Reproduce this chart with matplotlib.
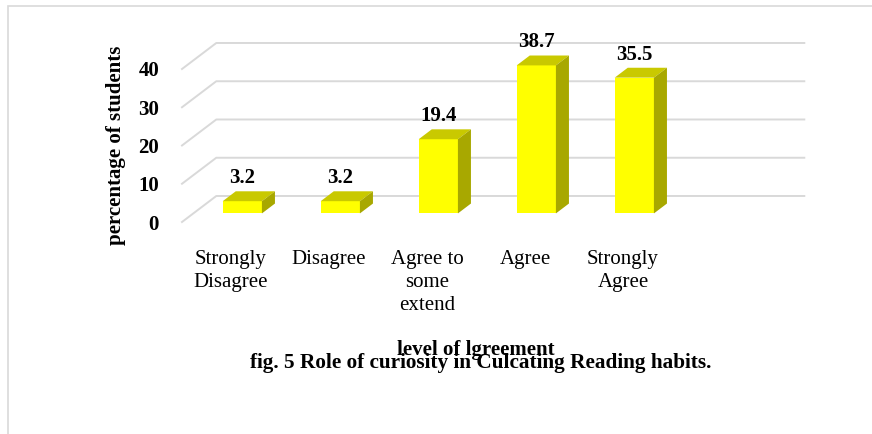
import numpy as np
import matplotlib.pyplot as plt
from matplotlib.patches import Rectangle

# data
categories = ["Strongly\nDisagree", "Disagree", "Agree to\nsome\nextend", "Agree", "Strongly\nAgree"]
values = [3.2, 3.2, 19.4, 38.7, 35.5]
yticks = [0, 10, 20, 30, 40]
n_slots = 6  # the chart leaves one empty slot on the right

plt.rcParams['font.family'] = ['Liberation Serif', 'DejaVu Serif']

W, H = 872, 434
fig = plt.figure(figsize=(W / 100, H / 100), dpi=100)
ax = fig.add_axes([182 / W, (H - 222) / H, 588 / W, 153 / H])
ax.set_xlim(-0.5, n_slots - 0.5)
ax.set_ylim(0, 40)
for s in ax.spines.values():
    s.set_visible(False)

# fake 3d: depth offsets in data units
dx, dy = 0.35, 6.8
f0, f1 = 0.33, 0.71
bw = 0.40
d = f1 - f0
grid = '#d9d9d9'

# gridlines on left wall and back wall
for t in yticks:
    ax.plot([-0.5, -0.5 + dx, n_slots - 0.5 + dx], [t, t + dy, t + dy],
            color=grid, lw=1.4, clip_on=False, zorder=1)

x = np.arange(len(values))
xf = x + f0 * dx
yb = f0 * dy
ax.bar(xf, values, bw, bottom=yb, color='#ffff00', zorder=3, clip_on=False)
for xi, v in zip(xf, values):
    l, r = xi - bw / 2, xi + bw / 2
    top = yb + v
    ax.fill([l, r, r + d * dx, l + d * dx], [top, top, top + d * dy, top + d * dy],
            color='#c9c900', lw=0, zorder=3, clip_on=False)
    ax.fill([r, r + d * dx, r + d * dx, r], [yb, yb + d * dy, top + d * dy, top],
            color='#a8a800', lw=0, zorder=3, clip_on=False)
    ax.text(xi, top + d * dy + 2.1, f"{v:.1f}", ha='center', va='baseline',
            fontsize=15, fontweight='bold', zorder=4)

ax.set_xticks(x, categories, fontsize=15)
ax.set_yticks(yticks, [str(t) for t in yticks], fontsize=15, fontweight='bold')
ax.tick_params(axis='both', length=0)
ax.tick_params(axis='y', pad=16.5)
ax.tick_params(axis='x', pad=20)
for lbl in ax.get_xticklabels():
    lbl.set_linespacing(1.3)

ax.set_ylabel("percentage of students", fontsize=15, fontweight='bold', labelpad=9)
ax.set_xlabel("level of lgreement", fontsize=15, fontweight='bold', labelpad=18)

fig.text(480.5 / W, 1 - 368 / H, "fig. 5 Role of curiosity in Culcating Reading habits.",
         ha='center', va='baseline', fontsize=15.3, fontweight='bold')

# outer chart border
fig.patches.append(Rectangle((8 / W, -0.1), 1.2, 1.1 - 6 / H, transform=fig.transFigure,
                             fill=False, edgecolor=grid, lw=1.2))

fig.savefig("out.png", dpi=100)
